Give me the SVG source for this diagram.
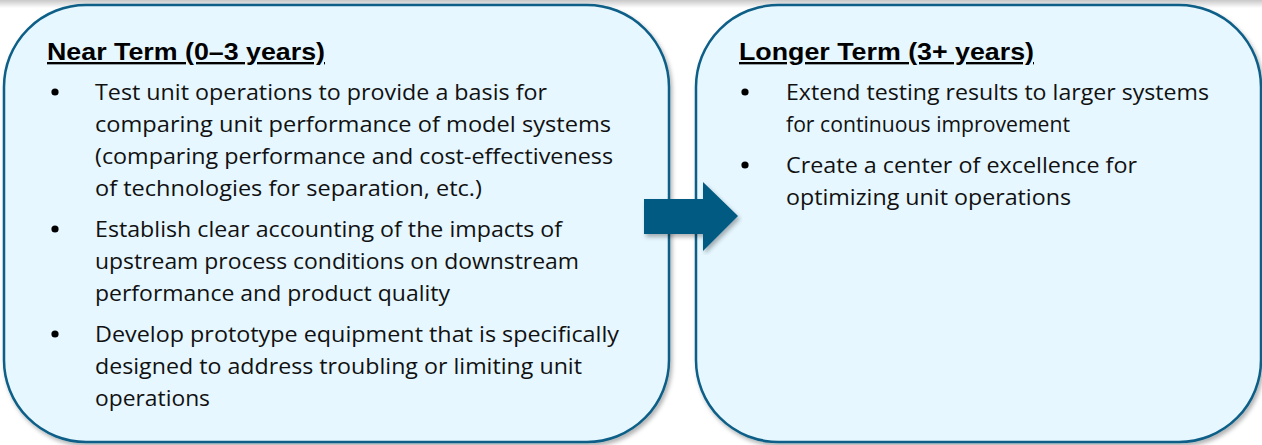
<svg xmlns="http://www.w3.org/2000/svg" width="1262" height="445" viewBox="0 0 1262 445">
<defs>
<linearGradient id="topbar" x1="0" y1="0" x2="0" y2="1">
<stop offset="0" stop-color="#c8c8c8"/>
<stop offset="1" stop-color="#ffffff"/>
</linearGradient>
<filter id="shadow" x="-5%" y="-5%" width="110%" height="110%">
<feDropShadow dx="2" dy="3" stdDeviation="2" flood-color="#000" flood-opacity="0.3"/>
</filter>
</defs>
<style>
.box{fill:#e6f7ff;stroke:#0b5e87;stroke-width:2.5}
.head{font-family:"Liberation Sans",Arial,sans-serif;font-weight:bold;font-size:23.5px;fill:#000;text-decoration:underline}
.body{font-family:"Open Sans","Noto Sans",sans-serif;font-size:22px;fill:#111}
.bul{fill:#000}
.arrow{fill:#005a82}
</style>
<rect x="0" y="0" width="1262" height="8" fill="url(#topbar)"/>
<g id="near-term">
<rect class="box" x="4" y="5" width="665" height="437" rx="82" ry="82" filter="url(#shadow)"/>
<text class="head" x="47" y="60" textLength="278" lengthAdjust="spacingAndGlyphs">Near Term (0–3 years)</text>
<circle class="bul" cx="55" cy="92" r="3.6"/>
<circle class="bul" cx="55" cy="229" r="3.6"/>
<circle class="bul" cx="55" cy="334" r="3.6"/>
<text class="body" x="95" y="100" textLength="452" lengthAdjust="spacingAndGlyphs">Test unit operations to provide a basis for</text>
<text class="body" x="95" y="132" textLength="516" lengthAdjust="spacingAndGlyphs">comparing unit performance of model systems</text>
<text class="body" x="95" y="164" textLength="518" lengthAdjust="spacingAndGlyphs">(comparing performance and cost-effectiveness</text>
<text class="body" x="95" y="196" textLength="387" lengthAdjust="spacingAndGlyphs">of technologies for separation, etc.)</text>
<text class="body" x="95" y="237" textLength="467" lengthAdjust="spacingAndGlyphs">Establish clear accounting of the impacts of</text>
<text class="body" x="95" y="269" textLength="484" lengthAdjust="spacingAndGlyphs">upstream process conditions on downstream</text>
<text class="body" x="95" y="301" textLength="355" lengthAdjust="spacingAndGlyphs">performance and product quality</text>
<text class="body" x="95" y="342" textLength="524" lengthAdjust="spacingAndGlyphs">Develop prototype equipment that is specifically</text>
<text class="body" x="95" y="374" textLength="487" lengthAdjust="spacingAndGlyphs">designed to address troubling or limiting unit</text>
<text class="body" x="95" y="406" textLength="115" lengthAdjust="spacingAndGlyphs">operations</text>
</g>
<g id="longer-term">
<rect class="box" x="696" y="5" width="565" height="437" rx="82" ry="82" filter="url(#shadow)"/>
<text class="head" x="739" y="60" textLength="295" lengthAdjust="spacingAndGlyphs">Longer Term (3+ years)</text>
<circle class="bul" cx="745" cy="92" r="3.6"/>
<circle class="bul" cx="745" cy="165" r="3.6"/>
<text class="body" x="786" y="100" textLength="423" lengthAdjust="spacingAndGlyphs">Extend testing results to larger systems</text>
<text class="body" x="786" y="132" textLength="284" lengthAdjust="spacingAndGlyphs">for continuous improvement</text>
<text class="body" x="786" y="173" textLength="351" lengthAdjust="spacingAndGlyphs">Create a center of excellence for</text>
<text class="body" x="786" y="205" textLength="285" lengthAdjust="spacingAndGlyphs">optimizing unit operations</text>
</g>
<g id="connectors">
<polygon class="arrow" points="644,199 703,199 703,182 738,216 703,251 703,234 644,234" filter="url(#shadow)"/>
</g>
</svg>
